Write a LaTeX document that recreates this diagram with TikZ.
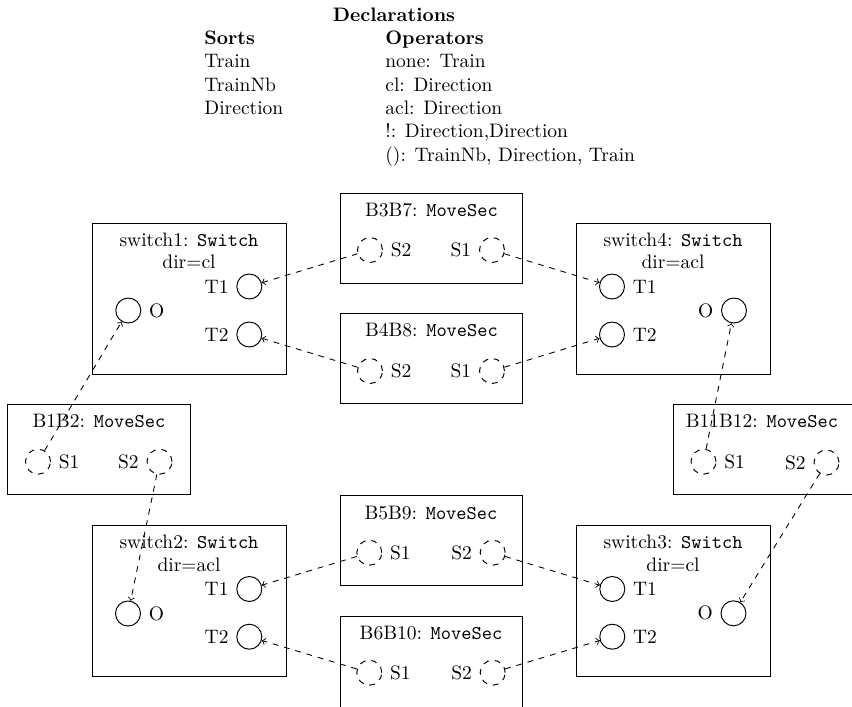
\documentclass[tikz,border=0pt]{standalone}
\newdimen\pxunit
\pxunit=0.5128pt
\begin{document}
\begin{tikzpicture}[x=0.5128pt, y=-0.5128pt,
  box/.style={draw, rectangle, inner sep=0pt, line width=0.5pt},
  swbox/.style={box, minimum width=194\pxunit, minimum height=151\pxunit},
  secbox/.style={box, minimum width=182\pxunit, minimum height=90\pxunit},
  port/.style={draw, circle, inner sep=0pt, minimum size=25\pxunit, line width=0.5pt},
  dport/.style={port, dashed},
  txt/.style={inner sep=0pt},
  link/.style={->, dashed, line width=0.45pt}]
\useasboundingbox (0,0) rectangle (852,706);

% ---- declarations table ----
\node[txt, anchor=base] (decl) at (394,21) {\textbf{Declarations}};
\node[txt, anchor=base west] (sorts) at (204,44.3) {\textbf{Sorts}};
\node[txt, anchor=base west] (ops) at (385,44.3) {\textbf{Operators}};
\node[txt, anchor=base west] (s1) at (204,67.6) {Train};
\node[txt, anchor=base west] (s2) at (204,91) {TrainNb};
\node[txt, anchor=base west] (s3) at (204,114.3) {Direction};
\node[txt, anchor=base west] (o1) at (385,67.6) {none: Train};
\node[txt, anchor=base west] (o2) at (385,91) {cl: Direction};
\node[txt, anchor=base west] (o3) at (385,114.3) {acl: Direction};
\node[txt, anchor=base west] (o4) at (385,137.6) {!: Direction,Direction};
\node[txt, anchor=base west] (o5) at (385,161) {(): TrainNb, Direction, Train};

% ---- switches ----
\node[swbox] (sw1) at (189,298.5) {};
\node[txt] (sw1title) at (189,240) {switch1: \texttt{Switch}};
\node[txt] (sw1dir) at (189,262) {dir=cl};
\node[port] (sw1t1) at (249.3,286.5) {};
\node[port] (sw1t2) at (249.3,334.5) {};
\node[port] (sw1o) at (128.3,310.5) {};
\node[txt, anchor=east] (sw1t1l) at ([xshift=-3.8pt]sw1t1.west) {T1};
\node[txt, anchor=east] (sw1t2l) at ([xshift=-3.8pt]sw1t2.west) {T2};
\node[txt, anchor=west] (sw1ol) at ([xshift=3.8pt]sw1o.east) {O};

\node[swbox] (sw4) at (673.2,298.5) {};
\node[txt] (sw4title) at (673,240) {switch4: \texttt{Switch}};
\node[txt] (sw4dir) at (673,262) {dir=acl};
\node[port] (sw4t1) at (612,286.5) {};
\node[port] (sw4t2) at (612,334.5) {};
\node[port] (sw4o) at (734,310.5) {};
\node[txt, anchor=west] (sw4t1l) at ([xshift=3.8pt]sw4t1.east) {T1};
\node[txt, anchor=west] (sw4t2l) at ([xshift=3.8pt]sw4t2.east) {T2};
\node[txt, anchor=east] (sw4ol) at ([xshift=-3.8pt]sw4o.west) {O};

\node[swbox] (sw2) at (189,600.5) {};
\node[txt] (sw2title) at (189,542) {switch2: \texttt{Switch}};
\node[txt] (sw2dir) at (189,565) {dir=acl};
\node[port] (sw2t1) at (249.3,589) {};
\node[port] (sw2t2) at (249.3,636.7) {};
\node[port] (sw2o) at (128,613.5) {};
\node[txt, anchor=east] (sw2t1l) at ([xshift=-3.8pt]sw2t1.west) {T1};
\node[txt, anchor=east] (sw2t2l) at ([xshift=-3.8pt]sw2t2.west) {T2};
\node[txt, anchor=west] (sw2ol) at ([xshift=3.8pt]sw2o.east) {O};

\node[swbox] (sw3) at (673.2,600.5) {};
\node[txt] (sw3title) at (673,542) {switch3: \texttt{Switch}};
\node[txt] (sw3dir) at (673,565) {dir=cl};
\node[port] (sw3t1) at (612.3,589) {};
\node[port] (sw3t2) at (612.3,636.7) {};
\node[port] (sw3o) at (733.5,613.3) {};
\node[txt, anchor=west] (sw3t1l) at ([xshift=3.8pt]sw3t1.east) {T1};
\node[txt, anchor=west] (sw3t2l) at ([xshift=3.8pt]sw3t2.east) {T2};
\node[txt, anchor=east] (sw3ol) at ([xshift=-3.8pt]sw3o.west) {O};

% ---- moving sections ----
\node[secbox] (b37) at (431.5,238) {};
\node[txt] (b37title) at (431.5,210) {B3B7: \texttt{MoveSec}};
\node[dport] (b37s2) at (370,250) {};
\node[dport] (b37s1) at (492,250) {};
\node[txt, anchor=west] (b37s2l) at ([xshift=3.8pt]b37s2.east) {S2};
\node[txt, anchor=east] (b37s1l) at ([xshift=-3.8pt]b37s1.west) {S1};

\node[secbox] (b48) at (431.5,358) {};
\node[txt] (b48title) at (431.5,330) {B4B8: \texttt{MoveSec}};
\node[dport] (b48s2) at (370,371) {};
\node[dport] (b48s1) at (492,371) {};
\node[txt, anchor=west] (b48s2l) at ([xshift=3.8pt]b48s2.east) {S2};
\node[txt, anchor=east] (b48s1l) at ([xshift=-3.8pt]b48s1.west) {S1};

\node[secbox] (b59) at (431,540.5) {};
\node[txt] (b59title) at (431,512.7) {B5B9: \texttt{MoveSec}};
\node[dport] (b59s1) at (369.3,552.7) {};
\node[dport] (b59s2) at (492.7,552.7) {};
\node[txt, anchor=west] (b59s1l) at ([xshift=3.8pt]b59s1.east) {S1};
\node[txt, anchor=east] (b59s2l) at ([xshift=-3.8pt]b59s2.west) {S2};

% this box runs past the lower edge of the page
\node[secbox, minimum height=94\pxunit] (b610) at (431,663) {};
\node[txt] (b610title) at (431,633.3) {B6B10: \texttt{MoveSec}};
\node[dport] (b610s1) at (369.3,672.7) {};
\node[dport] (b610s2) at (492.7,672.7) {};
\node[txt, anchor=west] (b610s1l) at ([xshift=3.8pt]b610s1.east) {S1};
\node[txt, anchor=east] (b610s2l) at ([xshift=-3.8pt]b610s2.west) {S2};

\node[secbox, minimum width=183\pxunit] (b12) at (98.5,449) {};
\node[txt] (b12title) at (99,421) {B1B2: \texttt{MoveSec}};
\node[dport] (b12s1) at (38,461.7) {};
\node[dport] (b12s2) at (159.5,461.7) {};
\node[txt, anchor=west] (b12s1l) at ([xshift=3.8pt]b12s1.east) {S1};
\node[txt, anchor=east] (b12s2l) at ([xshift=-3.8pt]b12s2.west) {S2};

% this box runs past the right edge of the page
\node[secbox, minimum width=183\pxunit] (b1112) at (764.5,449) {};
\node[txt] (b1112title) at (762,421) {B11B12: \texttt{MoveSec}};
\node[dport] (b1112s1) at (703.5,461.7) {};
\node[dport] (b1112s2) at (826.5,462.5) {};
\node[txt, anchor=west] (b1112s1l) at ([xshift=3.8pt]b1112s1.east) {S1};
\node[txt, anchor=east] (b1112s2l) at ([xshift=-3.8pt]b1112s2.west) {S2};

% ---- connections ----
\draw[link] (b37s2) -- (sw1t1);
\draw[link] (b37s1) -- (sw4t1);
\draw[link] (b48s2) -- (sw1t2);
\draw[link] (b48s1) -- (sw4t2);
\draw[link] (b12s1) -- (sw1o);
\draw[link] (b12s2) -- (sw2o);
\draw[link] (b1112s1) -- (sw4o);
\draw[link] (b1112s2) -- (sw3o);
\draw[link] (b59s1) -- (sw2t1);
\draw[link] (b59s2) -- (sw3t1);
\draw[link] (b610s1) -- (sw2t2);
\draw[link] (b610s2) -- (sw3t2);
\end{tikzpicture}
\end{document}
